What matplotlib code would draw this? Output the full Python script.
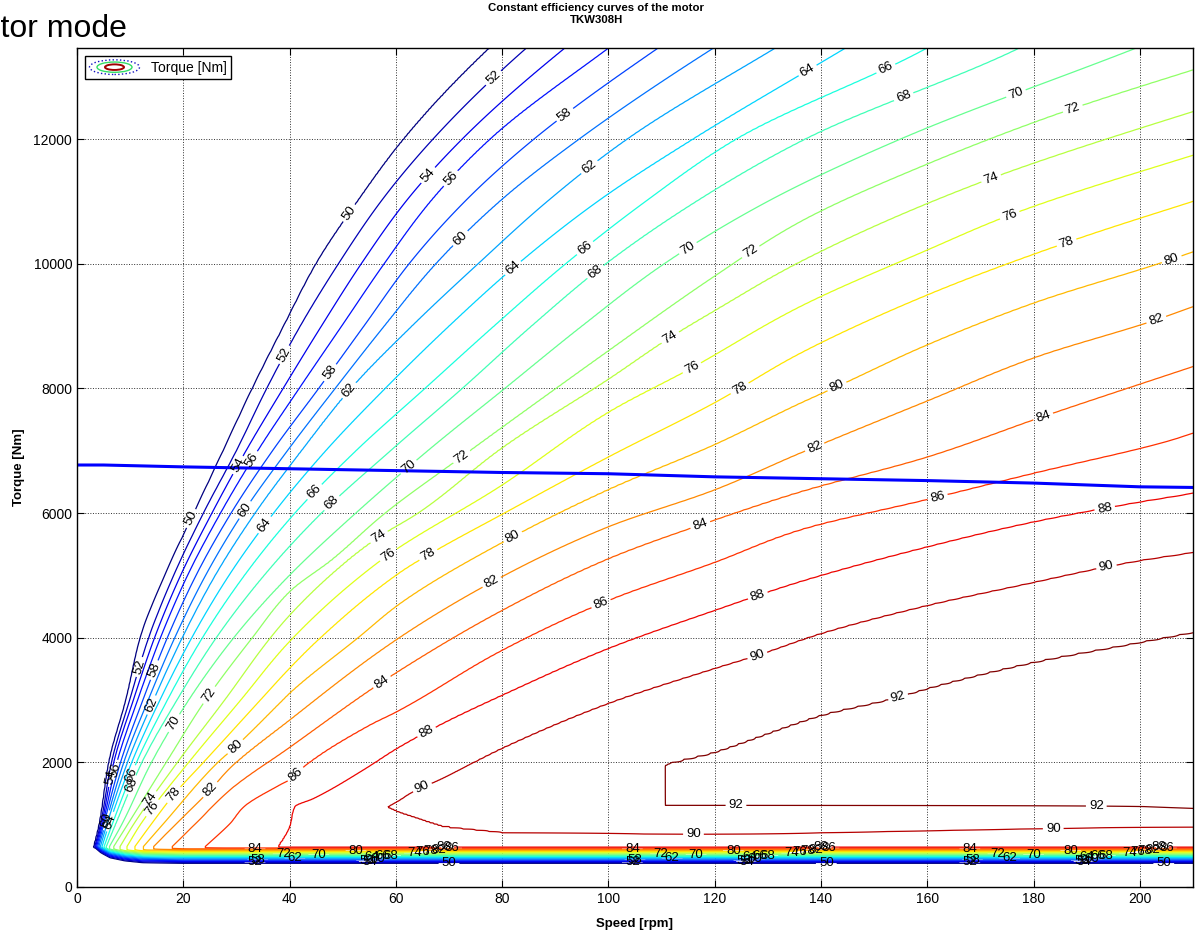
import numpy as np
import matplotlib
matplotlib.use("Agg")
import matplotlib.pyplot as plt
from matplotlib import font_manager
from matplotlib.legend_handler import HandlerBase
from matplotlib.patches import Ellipse

LEVELS = np.arange(50, 93, 2)

# steep curves 50..70: speed (rpm) at these torques (kNm)
LEFT_TORQUE = [0.65, 1, 2, 3, 4, 5, 6, 7, 8, 9, 10, 11, 12, 13.44, 14.5]
SPEED_50 = [3.2, 4.2, 6.0, 9.2, 11.9, 16.5, 22.0, 27.5, 33.0, 38.9, 45.0, 52.8, 61.5, 77.4, 92]
SPEED_52 = [3.35, 4.4, 6.5, 9.9, 13.5, 18.2, 23.8, 30.0, 35.7, 42.0, 49.2, 57.2, 67.0, 84.3, 100]
SPEED_54 = [3.5, 4.6, 6.9, 10.6, 14.6, 19.5, 25.4, 31.8, 38.8, 46.0, 53.5, 61.9, 72.5, 91.5, 108]
SPEED_56 = [3.7, 4.8, 7.5, 11.4, 15.7, 20.8, 27.0, 34.0, 41.8, 49.8, 57.8, 66.5, 77.7, 99.7, 117]
SPEED_58 = [3.9, 5.0, 8.2, 12.4, 17.0, 22.4, 29.0, 36.8, 45.5, 54.0, 62.5, 73.0, 86.0, 109, 128]
SPEED_60 = [4.1, 5.3, 8.8, 13.4, 18.4, 24.2, 31.2, 39.6, 48.6, 57.8, 67.5, 79.5, 94.5, 119.4, 140]
SPEED_62 = [4.4, 5.6, 9.5, 14.4, 19.8, 26.0, 33.5, 42.2, 51.5, 63.0, 75.5, 88.5, 103.5, 131, 152]
SPEED_64 = [4.7, 6.0, 10.3, 15.6, 21.6, 28.6, 37.0, 46.8, 58.0, 70.0, 83.0, 98.0, 116.0, 144.2, 165]
SPEED_66 = [5.1, 6.6, 11.2, 17.0, 23.6, 31.5, 41.0, 52.5, 65.5, 78.5, 92.0, 107.0, 124.0, 159.5, 180]
SPEED_68 = [5.5, 7.2, 12.2, 18.8, 26.2, 35.2, 46.0, 59.0, 72.5, 85.5, 99.5, 116.5, 137.0, 176.8, 200]
SPEED_70 = [6.1, 8.4, 14.0, 21.0, 29.5, 40.0, 52.5, 66.0, 80.5, 95.0, 110.5, 130.0, 155.0, 198.7, 230]

# flatter curves 72..92: points (speed rpm, torque kNm) along each line
SPEED_72 = [6.9, 9.5, 16.8, 24.2, 33.0, 40.0, 48.0, 58.0, 72.4, 100, 120, 136, 160, 185, 210, 240]
TORQUE_72 = [0.65, 1.0, 2.0, 3.0, 4.0, 4.74, 5.25, 6.0, 6.9, 8.6, 9.8, 10.67, 11.6, 12.42, 13.11, 13.9]
SPEED_74 = [8.1, 10.6, 18.9, 27.8, 36.4, 40.0, 51.0, 56.8, 64.2, 80, 100, 111.6, 120, 136, 168.6, 210, 240]
TORQUE_74 = [0.65, 1.0, 2.0, 3.0, 4.0, 4.36, 5.25, 5.62, 6.0, 7.05, 8.15, 8.82, 9.25, 10.03, 11.26, 12.44, 13.2]
SPEED_76 = [9.4, 11.9, 21.0, 30.8, 40.0, 57.3, 80, 100, 115.7, 136, 160, 175.5, 210, 240]
TORQUE_76 = [0.65, 1.0, 2.0, 3.0, 3.94, 5.25, 6.45, 7.62, 8.33, 9.31, 10.22, 10.78, 11.74, 12.5]
SPEED_78 = [10.9, 13.9, 18.2, 23.8, 34.5, 40.0, 45.8, 60.8, 66.1, 80, 100, 120, 136, 160, 186.2, 210, 240]
TORQUE_78 = [0.65, 1.0, 1.48, 2.0, 3.0, 3.51, 4.0, 5.05, 5.33, 5.98, 6.9, 7.77, 8.56, 9.5, 10.34, 11.0, 11.8]
SPEED_80 = [12.5, 16.1, 26.5, 29.8, 38.7, 40.0, 52.9, 60.8, 82, 100, 120, 136, 143, 160, 180, 206, 210, 240]
TORQUE_80 = [0.65, 1.0, 2.0, 2.25, 3.0, 3.11, 4.0, 4.55, 5.62, 6.38, 7.1, 7.76, 8.03, 8.7, 9.37, 10.07, 10.19, 11.0]
SPEED_82 = [14.4, 18.5, 25.1, 28.8, 40, 60.8, 80, 100, 120, 136, 160, 180, 203.1, 210, 240]
TORQUE_82 = [0.65, 1.0, 1.56, 1.91, 2.68, 4.01, 4.98, 5.78, 6.37, 6.96, 7.8, 8.49, 9.1, 9.31, 10.2]
SPEED_84 = [17.9, 22.1, 28.8, 40, 55.1, 60.8, 80, 100, 120, 136, 160, 181.8, 210, 240]
TORQUE_84 = [0.65, 1.0, 1.56, 2.24, 3.16, 3.48, 4.44, 5.27, 5.89, 6.34, 6.9, 7.55, 8.35, 9.2]
SPEED_86 = [24.1, 28.8, 31.3, 38.2, 40.4, 42.7, 55.1, 60.1, 80, 100, 120, 136, 160, 180, 206, 210, 240]
TORQUE_86 = [0.65, 1.02, 1.28, 1.64, 1.74, 1.93, 2.6, 2.81, 3.8, 4.6, 5.21, 5.73, 6.22, 6.64, 7.17, 7.28, 8.0]
SPEED_88 = [37.8, 40, 41, 44.5, 53.9, 60.1, 68.9, 80, 100, 120, 136, 160, 180, 200, 210, 240]
TORQUE_88 = [0.65, 0.97, 1.29, 1.42, 1.88, 2.22, 2.63, 3.08, 3.83, 4.44, 4.9, 5.46, 5.86, 6.18, 6.32, 6.9]
SPEED_90 = [58.3, 60.8, 62.6, 68.9, 80, 100, 120, 128, 140, 160, 180, 193.7, 200, 210, 240]
TORQUE_90 = [1.28, 1.4, 1.5, 1.75, 2.23, 2.95, 3.51, 3.72, 4.07, 4.52, 4.89, 5.14, 5.24, 5.37, 5.8]
SPEED_92 = [110.6, 110.6, 120, 136, 140, 154.5, 160, 180, 200, 210, 240]
TORQUE_92 = [1.3, 1.93, 2.17, 2.65, 2.76, 3.05, 3.19, 3.61, 3.93, 4.09, 4.55]

# lower branch of the 90 curve
SPEED_90_LOW = [58.3, 60.8, 68.9, 80, 120, 140, 183.7, 210]
TORQUE_90_LOW = [1.28, 1.19, 0.96, 0.87, 0.84, 0.87, 0.94, 0.97]

# efficiency along the right edge (210 rpm)
EDGE_TORQUE = [0.65, 0.8, 1.0, 1.15, 1.35, 1.5, 2.0, 2.5, 3.0, 4.09, 5.37, 6.32, 7.28,
               8.35, 9.31, 10.19, 11.0, 11.74, 12.44, 13.11, 13.7, 14.5]
EDGE_EFF = [89.2, 89.4, 90.15, 91.5, 92.4, 92.6, 92.9, 92.8, 92.6, 92, 90, 88, 86,
            84, 82, 80, 78, 76, 74, 72, 70, 67]

# low torque band where every curve is squeezed together
BAND_TORQUE = [0.0, 0.34, 0.38, 0.64]
BAND_EFF = [35, 46, 50, 88]
# the band bends upwards at the very low speeds
BEND_SPEED = [0, 3.4, 4.5, 6.2, 9, 12.4, 20]
BEND_TORQUE = [0.25, 0.25, 0.17, 0.09, 0.04, 0.01, 0.0]

# maximum torque line
MAX_SPEED = [0, 5, 10, 20, 40, 60, 80, 100, 120, 140, 160, 180, 200, 210]
MAX_TORQUE = [6770, 6770, 6760, 6740, 6710, 6680, 6650, 6630, 6580, 6550, 6520, 6480, 6420, 6410]

# inline labels on the rising branches: level and torque (Nm) of each label
LABEL_LEVEL = [50, 50, 52, 52, 52, 54, 54, 54, 56, 56, 56, 58, 58, 58, 60, 60, 60,
               62, 62, 62, 64, 64, 64, 64, 66, 66, 66, 66, 68, 68, 68, 68,
               70, 70, 70, 70, 72, 72, 72, 72, 74, 74, 74, 74, 76, 76, 76, 76,
               78, 78, 78, 78, 80, 80, 80, 80, 82, 82, 82, 82, 84, 84, 84,
               86, 86, 86, 88, 88, 88, 90, 90, 90, 92]
LABEL_TORQUE = [10810, 5910, 12980, 8540, 3530, 11420, 6770, 1770, 11370, 6850, 1880,
                12390, 8250, 3480, 10410, 6050, 1070, 11550, 7970, 2920,
                13100, 9930, 5810, 1050, 13130, 10250, 6340, 1800, 12680, 9870, 6160, 1640,
                12730, 10250, 6740, 2630, 12490, 10190, 6900, 3080,
                11370, 8820, 5620, 1400, 10780, 8330, 5330, 1270,
                10340, 8000, 5330, 1480, 10070, 8030, 5620, 2250, 9100, 7060, 4890, 1560,
                7550, 5810, 3290, 6260, 4550, 1800, 6080, 4680, 2490,
                5140, 3720, 1600, 3050]
# labels on the flat lower parts of the 90 and 92 curves
LOW_LABEL_SPEED = [116, 183.7, 124, 191.8]
LOW_LABEL_TORQUE = [830, 940, 1260, 1240]
# labels inside the low band: three groups, each level shifted a little
BAND_GROUPS = [33.5, 104.5, 168.0]
BAND_LABEL_SHIFT = [36.5, 0, 21.5, 21, 0.5, 23, 7.5, 22, 24, 25.5, 12, 5.3,
                    30, 31.5, 33, 19, 34.5, 0, 37, 35.5]

CURVES = [(50, SPEED_50, LEFT_TORQUE), (52, SPEED_52, LEFT_TORQUE), (54, SPEED_54, LEFT_TORQUE),
          (56, SPEED_56, LEFT_TORQUE), (58, SPEED_58, LEFT_TORQUE), (60, SPEED_60, LEFT_TORQUE),
          (62, SPEED_62, LEFT_TORQUE), (64, SPEED_64, LEFT_TORQUE), (66, SPEED_66, LEFT_TORQUE),
          (68, SPEED_68, LEFT_TORQUE), (70, SPEED_70, LEFT_TORQUE),
          (72, SPEED_72, TORQUE_72), (74, SPEED_74, TORQUE_74), (76, SPEED_76, TORQUE_76),
          (78, SPEED_78, TORQUE_78), (80, SPEED_80, TORQUE_80), (82, SPEED_82, TORQUE_82),
          (84, SPEED_84, TORQUE_84), (86, SPEED_86, TORQUE_86), (88, SPEED_88, TORQUE_88),
          (90, SPEED_90, TORQUE_90), (92, SPEED_92, TORQUE_92)]

N_MAX = 210.0


def pchip(x, y, xq):
    # monotone cubic through the read points, so the curves bend smoothly
    x = np.asarray(x, float)
    y = np.asarray(y, float)
    h = np.diff(x)
    d = np.diff(y) / h
    m = np.zeros_like(y)
    m[0], m[-1] = d[0], d[-1]
    for k in range(1, len(x) - 1):
        if d[k - 1] * d[k] > 0:
            w1 = 2 * h[k] + h[k - 1]
            w2 = h[k] + 2 * h[k - 1]
            m[k] = (w1 + w2) / (w1 / d[k - 1] + w2 / d[k])
    i = int(np.clip(np.searchsorted(x, xq) - 1, 0, len(x) - 2))
    t = (xq - x[i]) / h[i]
    return ((2 * t**3 - 3 * t**2 + 1) * y[i] + (t**3 - 2 * t**2 + t) * h[i] * m[i]
            + (-2 * t**3 + 3 * t**2) * y[i + 1] + (t**3 - t**2) * h[i] * m[i + 1])


def row_knots(t):
    ns, es = [0.0], [40.0]
    for lev, sp, tq in CURVES:
        if tq[0] <= t <= tq[-1]:
            n = float(pchip(tq, sp, t))
            if n < N_MAX:
                ns.append(n)
                es.append(lev)
    cross = []
    for i in range(len(SPEED_90_LOW) - 1):
        t0, t1 = TORQUE_90_LOW[i], TORQUE_90_LOW[i + 1]
        if min(t0, t1) <= t < max(t0, t1):
            n0, n1 = SPEED_90_LOW[i], SPEED_90_LOW[i + 1]
            cross.append(n0 + (t - t0) / (t1 - t0) * (n1 - n0))
    cross.sort()
    for n in cross:
        ns.append(n)
        es.append(90)
    if len(cross) == 2:
        ns.append(0.5 * (cross[0] + cross[1]))
        es.append(90.3)
    ns.append(N_MAX)
    es.append(float(np.interp(t, EDGE_TORQUE, EDGE_EFF)))
    order = np.argsort(ns, kind="stable")
    return np.array(ns)[order], np.array(es)[order]


def efficiency_map():
    speed = np.linspace(0, N_MAX, 841)
    upper = np.round(np.concatenate([np.arange(0.65, 2.0, 0.02),
                                     np.arange(2.0, 13.501, 0.05)]), 4)
    band = np.round(np.arange(0.0, 0.645, 0.01), 4)
    top = np.interp(speed, *row_knots(0.65))
    bend = np.interp(speed, BEND_SPEED, BEND_TORQUE)
    rows = []
    for t in band:
        rows.append(np.minimum(np.interp(t - bend, BAND_TORQUE, BAND_EFF), top))
    for t in upper:
        rows.append(np.interp(speed, *row_knots(t)))
    torque = np.concatenate([band, upper]) * 1000
    return speed, torque, np.array(rows)


def label_spots():
    curve_of = {lev: (sp, tq) for lev, sp, tq in CURVES}
    spots = []
    for lev, tq in zip(LABEL_LEVEL, LABEL_TORQUE):
        sp, tt = curve_of[lev]
        spots.append((float(pchip(tt, sp, tq / 1000.0)), tq))
    spots += list(zip(LOW_LABEL_SPEED, LOW_LABEL_TORQUE))
    for base in BAND_GROUPS:
        for lev, shift in zip(LEVELS[:-2], BAND_LABEL_SHIFT):
            spots.append((base + shift, 1000 * np.interp(lev, BAND_EFF, BAND_TORQUE)))
    return spots


class ContourIcon(HandlerBase):
    def create_artists(self, legend, orig_handle, xdescent, ydescent,
                       width, height, fontsize, trans):
        cx = 0.5 * width - xdescent
        cy = 0.5 * height - ydescent
        rings = [(1.0, "#1010c0", ":"), (0.7, "#33dd66", "-"), (0.38, "#a00000", "-")]
        arts = []
        for f, c, ls in rings:
            arts.append(Ellipse((cx, cy), width * f, height * 1.1 * f, fill=False,
                                edgecolor=c, lw=1.4 if f < 0.5 else 1.0,
                                linestyle=ls, transform=trans))
        return arts


class IconHandle:
    pass


def main():
    names = {f.name for f in font_manager.fontManager.ttflist}
    plt.rcParams["font.family"] = ["Liberation Sans", "DejaVu Sans"]
    if "Liberation Sans Narrow" in names:
        title_font, title_size = "Liberation Sans Narrow", 9.5
    else:
        title_font, title_size = "Liberation Sans", 8.2

    speed, torque, eff = efficiency_map()

    fig = plt.figure(figsize=(12, 9.33), dpi=100)
    ax = fig.add_axes([77 / 1200, 46 / 933, 1116 / 1200, 839 / 933])

    cs = ax.contour(speed, torque, eff, levels=LEVELS, cmap="jet",
                    vmin=50, vmax=92, linewidths=0.9)
    ax.clabel(cs, manual=label_spots(), fmt="%d", fontsize=9.5, inline=True,
              inline_spacing=3, colors="k")

    ax.plot(MAX_SPEED, MAX_TORQUE, color=(0, 0, 1), linewidth=2.2)

    ax.set_xlim(0, 210)
    ax.set_ylim(0, 13460)
    ax.set_xticks(np.arange(0, 201, 20))
    ax.set_yticks(np.arange(0, 12001, 2000))
    ax.tick_params(direction="in", top=True, right=True, labelsize=10, length=5)
    ax.grid(True, linestyle=":", color="#303030", linewidth=0.7)
    for s in ax.spines.values():
        s.set_linewidth(1.0)

    ax.set_xlabel("Speed [rpm]", fontsize=9.5, fontweight="bold", labelpad=9)
    ax.set_ylabel("Torque [Nm]", fontsize=9.5, fontweight="bold", labelpad=6)

    ax.legend([IconHandle()], ["Torque [Nm]"], handler_map={IconHandle: ContourIcon()},
              loc="upper left", fontsize=10, fancybox=False, edgecolor="black",
              framealpha=1, handlelength=3.6, handleheight=1.1,
              borderpad=0.3, borderaxespad=0.6)

    fig.text(0.497, 1 - 3 / 933, "Constant efficiency curves of the motor\nTKW308H",
             ha="center", va="top", fontsize=title_size, fontweight="bold",
             family=title_font, linespacing=1.25)
    fig.text(127 / 1200, 1 - 37 / 933, "Motor mode", ha="right", va="baseline",
             fontsize=23)

    fig.savefig("out.png", dpi=100)


if __name__ == "__main__":
    main()
